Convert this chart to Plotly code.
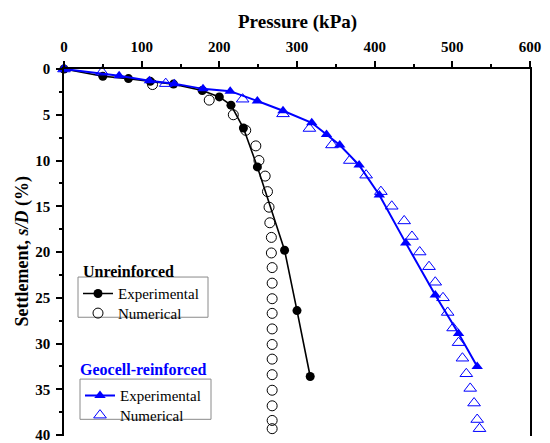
import plotly.graph_objects as go

# Unreinforced
unr_exp_x = [0, 50, 83, 111, 141, 178, 200, 215, 231, 249, 284, 300, 317]
unr_exp_y = [0, 0.8, 1.05, 1.35, 1.65, 2.35, 3.05, 3.95, 6.45, 10.7, 19.8, 26.4, 33.6]
unr_num_x = [114, 187, 218, 234, 247, 251, 259, 262, 264, 265, 267, 267, 268, 268, 268, 268,
             268, 268, 268, 268, 268, 268, 268, 268]
unr_num_y = [1.7, 3.4, 5.0, 6.7, 8.4, 10.0, 11.7, 13.4, 15.1, 16.8, 18.4, 20.1, 21.7, 23.4,
             25.1, 26.7, 28.4, 30.1, 31.7, 33.4, 35.1, 36.8, 38.4, 39.3]

# Geocell-reinforced
geo_exp_x = [0, 71, 110, 142, 179, 214, 249, 282, 319, 338, 355, 380, 406, 440, 478, 508, 532]
geo_exp_y = [0, 0.75, 1.28, 1.6, 2.17, 2.42, 3.49, 4.56, 5.88, 7.17, 8.3, 10.5, 13.76, 19.0,
             24.7, 28.9, 32.5]
geo_num_x = [0, 49, 131, 230, 282, 316, 345, 368, 389, 408, 422, 438, 448, 458, 470, 478, 488,
             494, 501, 508, 513, 518, 523, 528, 532, 535]
geo_num_y = [0, 0.35, 1.6, 3.3, 4.9, 6.5, 8.3, 10.0, 11.6, 13.4, 15.0, 16.6, 18.3, 20.0, 21.6,
             23.3, 25.0, 26.6, 28.3, 29.9, 31.6, 33.3, 34.9, 36.5, 38.3, 39.3]

x_ticks = [0, 100, 200, 300, 400, 500, 600]
y_ticks = [0, 5, 10, 15, 20, 25, 30, 35, 40]

FONT = "Liberation Serif"
BLUE = "#0000FF"

# page offset of the plot div (body margin) compensated in margins
PL, PT = 56, 61  # plot area left/top in figure coords
PW, PH = 466, 374


def px(xp):
    return (xp - 8 - PL) / PW


def py(yp):
    return 1 - (yp - 8 - PT) / PH


fig = go.Figure()
fig.add_trace(go.Scatter(x=unr_exp_x, y=unr_exp_y, mode="lines+markers", name="Experimental",
                         line=dict(color="black", width=1.6),
                         marker=dict(symbol="circle", size=9, color="black"),
                         legend="legend", showlegend=True, cliponaxis=False))
fig.add_trace(go.Scatter(x=unr_num_x, y=unr_num_y, mode="markers", name="Numerical",
                         marker=dict(symbol="circle-open", size=10, color="black",
                                     line=dict(width=1)),
                         legend="legend2", showlegend=True, cliponaxis=False))
fig.add_trace(go.Scatter(x=geo_exp_x, y=geo_exp_y, mode="lines+markers", name="Experimental",
                         line=dict(color=BLUE, width=2),
                         marker=dict(symbol="triangle-up", size=10, color=BLUE),
                         legend="legend3", showlegend=True, cliponaxis=False))
fig.add_trace(go.Scatter(x=geo_num_x, y=geo_num_y, mode="markers", name="Numerical",
                         marker=dict(symbol="triangle-up-open", size=11, color=BLUE,
                                     line=dict(width=1)),
                         legend="legend4", showlegend=True, cliponaxis=False))


def leg(xp, yp):
    return dict(x=px(xp), y=py(yp + 6), xanchor="left", yanchor="middle",
                bgcolor="rgba(0,0,0,0)", borderwidth=0, font=dict(family=FONT, size=15))


fig.update_layout(
    width=550, height=443,
    showlegend=True,
    margin=dict(l=PL, r=550 - PL - PW, t=PT, b=443 - PT - PH),
    paper_bgcolor="white", plot_bgcolor="white",
    font=dict(family=FONT, color="black"),
    xaxis=dict(side="top", range=[0, 600], tickvals=x_ticks, showgrid=False, zeroline=False,
               showline=True, linecolor="black", linewidth=1.5, mirror=False,
               ticks="outside", ticklen=6, tickwidth=1.5, tickcolor="black",
               minor=dict(ticks="outside", ticklen=3, dtick=50, tickwidth=1.5, tickcolor="black"),
               tickfont=dict(family=FONT, size=15, weight="bold"), ticklabelstandoff=3),
    yaxis=dict(range=[40.1, 0], tickvals=y_ticks, showgrid=False, zeroline=False,
               showline=True, linecolor="black", linewidth=1.5, mirror=True,
               ticks="outside", ticklen=6, tickwidth=1.5, tickcolor="black",
               minor=dict(ticks="outside", ticklen=3, dtick=2.5, tickwidth=1.5, tickcolor="black"),
               tickfont=dict(family=FONT, size=15, weight="bold"), ticklabelstandoff=3),
    legend=leg(78, 292),
    legend2=leg(78, 312),
    legend3=leg(80, 396),
    legend4=leg(80, 416),
    shapes=[
        dict(type="rect", xref="paper", yref="paper", x0=px(78), x1=px(208), y0=py(281), y1=py(322),
             line=dict(color="#8a8a8a", width=1), fillcolor="white", layer="below"),
        dict(type="rect", xref="paper", yref="paper", x0=px(80), x1=px(211), y0=py(385), y1=py(426),
             line=dict(color="#8a8a8a", width=1), fillcolor="white", layer="below"),
    ],
    annotations=[
        dict(text="<b>Pressure (kPa)</b>", xref="paper", yref="paper", x=0.5, y=py(21),
             xanchor="center", yanchor="middle", showarrow=False, font=dict(family=FONT, size=19)),
        dict(text="<b>Settlement, <i>s/D</i> (%)</b>", xref="paper", yref="paper",
             x=px(23), y=py(255), textangle=-90,
             xanchor="center", yanchor="middle", showarrow=False, font=dict(family=FONT, size=18)),
        dict(text="<b>Unreinforced</b>", xref="paper", yref="paper", x=px(81),
             y=py(275), xanchor="left", yanchor="middle", showarrow=False,
             font=dict(family=FONT, size=16, color="black")),
        dict(text="<b>Geocell-reinforced</b>", xref="paper", yref="paper", x=px(78),
             y=py(375), xanchor="left", yanchor="middle", showarrow=False,
             font=dict(family=FONT, size=16, color=BLUE)),
    ],
)

fig.write_html("out.html")
